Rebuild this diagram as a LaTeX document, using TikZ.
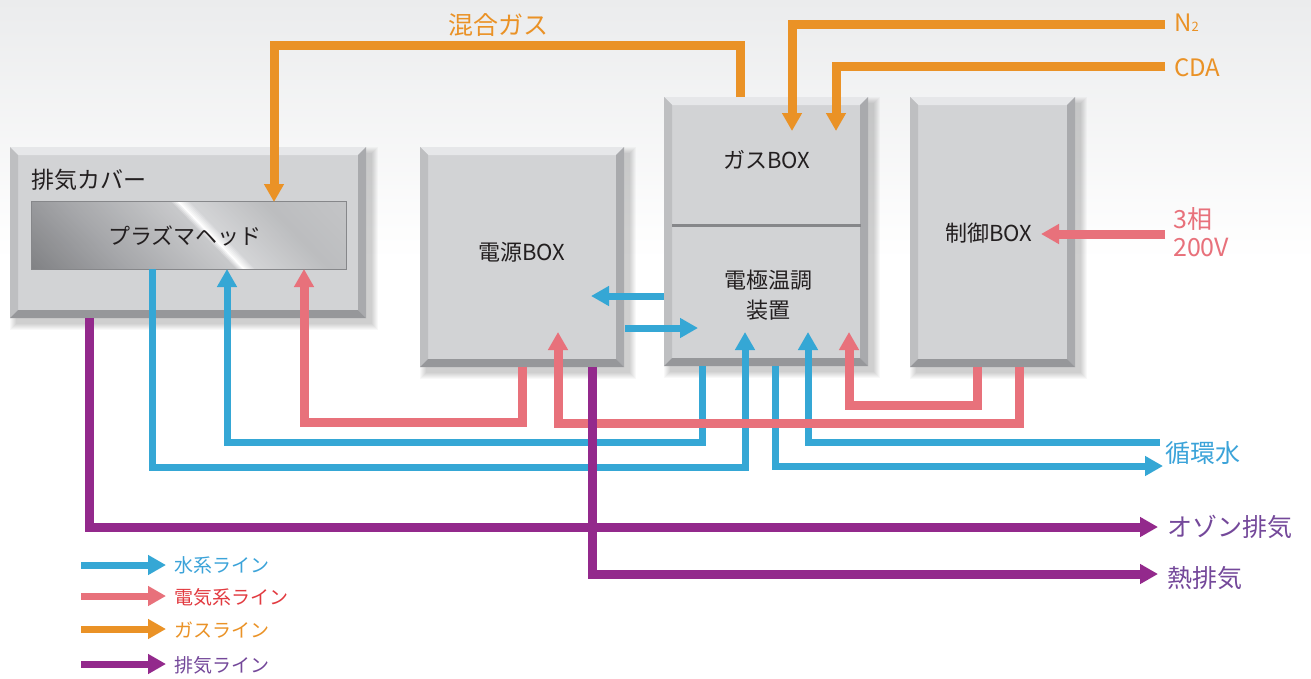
\documentclass[tikz,border=0pt]{standalone}
\usepackage{fontspec}
\setmainfont{Noto Sans CJK JP}
\usetikzlibrary{arrows.meta}
\definecolor{cblue}{HTML}{35A7D5}
\definecolor{cred}{HTML}{E8717B}
\definecolor{corange}{HTML}{EA9226}
\definecolor{cpurple}{HTML}{93298C}
\definecolor{tblue}{HTML}{3BA3D9}
\definecolor{tred}{HTML}{E23A40}
\definecolor{tpurple}{HTML}{74489A}
\definecolor{face}{HTML}{D2D3D5}
\definecolor{bevT}{HTML}{E6E7E9}
\definecolor{bevL}{HTML}{BEBFC1}
\definecolor{bevR}{HTML}{A9AAAD}
\definecolor{bevB}{HTML}{96979A}
\definecolor{ink}{HTML}{231F20}
\definecolor{bgtop}{HTML}{EBECED}
\definecolor{divc}{HTML}{86878A}
\definecolor{m0}{HTML}{7F8083}
\definecolor{m1}{HTML}{A5A6A9}
\definecolor{m2}{HTML}{C8C9CB}
\definecolor{m3}{HTML}{FFFFFF}
\definecolor{m4}{HTML}{D3D4D6}
\definecolor{m5}{HTML}{BCBDBF}
\definecolor{m6}{HTML}{C4C5C7}
\newcommand{\bevbox}[5]{%
  \foreach \s in {1,...,7}{\fill[black,opacity=0.028] (#2+7-\s,#3+7-\s) rectangle (#4+5+\s,#5+5+\s);}
  \fill[face] (#2,#3) rectangle (#4,#5);
  \fill[bevT] (#2,#3) -- (#4,#3) -- (#4-8,#3+8) -- (#2+8,#3+8) -- cycle;
  \fill[bevL] (#2,#3) -- (#2+8,#3+8) -- (#2+8,#5-8) -- (#2,#5) -- cycle;
  \fill[bevR] (#4,#3) -- (#4,#5) -- (#4-8,#5-8) -- (#4-8,#3+8) -- cycle;
  \fill[bevB] (#2,#5) -- (#4,#5) -- (#4-8,#5-8) -- (#2+8,#5-8) -- cycle;
  \node[inner sep=0pt, minimum width={#4-#2}, minimum height={#5-#3}] (#1) at ({(#2+#4)/2},{(#3+#5)/2}) {};
}
% slanted metal strips: #1 start, #2 end, #3 step, #4 colour A, #5 colour B
\newcommand{\metalseg}[5]{%
  \foreach \t in {#1,#3,...,#2}{%
    \pgfmathsetmacro\pp{100*(\t-(#1))/((#2)-(#1))}%
    \fill[#5!\pp!#4] (\t,200) -- (\t+2.8,200) -- (\t+70.8,270) -- (\t+68,270) -- cycle;}%
}
\tikzset{
  pipe/.style={line width=#1, -{Triangle[length=18pt,width=19pt]}},
  pipe/.default=9pt,
  bpipe/.style={pipe=7pt, draw=cblue},
  rpipe/.style={pipe=9pt, draw=cred},
  opipe/.style={pipe=9pt, draw=corange},
  ppipe/.style={pipe=9pt, draw=cpurple},
  boxlbl/.style={font=\fontsize{22}{27}\selectfont, text=ink, inner sep=0pt, align=center},
  sidelbl/.style={font=\fontsize{25}{28}\selectfont, inner sep=0pt, anchor=west},
  leglbl/.style={font=\fontsize{19}{22}\selectfont, inner sep=0pt, anchor=west},
}
\begin{document}
\begin{tikzpicture}[x=1pt,y=-1pt]
\useasboundingbox (0,0) rectangle (1311,678);
\fill[white] (0,0) rectangle (1311,678);
\shade[top color=bgtop, bottom color=white] (0,0) rectangle (1311,260);

% boxes
\bevbox{cover}{10}{147}{366}{318}
\bevbox{pwr}{420}{147}{624}{367}
\bevbox{gas}{664}{97}{868}{366}
\bevbox{ctl}{910}{97}{1075}{367}

% plasma head (brushed metal with a diagonal highlight)
\begin{scope}
  \clip (31,201) rectangle (346,269);
  \metalseg{-40}{60}{-38}{m0}{m1}
  \metalseg{60}{168}{62}{m1}{m2}
  \metalseg{168}{176}{170}{m2}{m3}
  \metalseg{176}{188}{178}{m3}{m4}
  \metalseg{188}{262}{190}{m4}{m5}
  \metalseg{262}{348}{264}{m5}{m6}
\end{scope}
\node[draw=divc, line width=0.8pt, inner sep=0pt, minimum width=315, minimum height=68] (ph) at (188.5,235) {};

% divider in gas box
\draw[divc, line width=3pt] (672,225) -- (861,225);

% labels in boxes
\node[boxlbl, anchor=west, font=\fontsize{23}{27}\selectfont] (lcover) at (31,180) {排気カバー};
\node[boxlbl] (lph) at (185,236) {プラズマヘッド};
\node[boxlbl] (lpwr) at (522,252) {電源BOX};
\node[boxlbl] (lgas) at (767,160) {ガスBOX};
\node[boxlbl, font=\fontsize{22}{30}\selectfont] (lel) at (768,295) {電極温調\\装置};
\node[boxlbl] (lctl) at (989,233) {制御BOX};

% port coordinates
\coordinate (ghTop) at (740,97);
\coordinate (phTop) at (274,202);
\coordinate (n2in) at (1165,24);
\coordinate (n2out) at (792,131);
\coordinate (cdain) at (1165,66);
\coordinate (cdaout) at (836,131);
\coordinate (v3in) at (1165,234);
\coordinate (ctlIn) at (1041,234);
\coordinate (pwrR) at (522,367);
\coordinate (phR) at (304,269);
\coordinate (ctlR1) at (1019,367);
\coordinate (pwrIn) at (558,332);
\coordinate (ctlR2) at (977,367);
\coordinate (gasRin) at (849,332);
\coordinate (phB1) at (152,269);
\coordinate (gasBin1) at (745,332);
\coordinate (gasB1) at (702,366);
\coordinate (phB2) at (227,269);
\coordinate (gasW) at (664,296);
\coordinate (pwrE) at (591,296);
\coordinate (pwrE2) at (625,328);
\coordinate (gasW2) at (698,328);
\coordinate (cwin) at (1160,442);
\coordinate (gasBin2) at (808,332);
\coordinate (gasB2) at (775,366);
\coordinate (cwout) at (1163,466);
\coordinate (covB) at (89,318);
\coordinate (ozout) at (1158,527);
\coordinate (pwrP) at (592,367);
\coordinate (htout) at (1158,574);

% blue lines
\draw[bpipe] (phB1) -- (152,467) -| (gasBin1);
\draw[bpipe] (gasB1) -- (702,442) -| (phB2);
\draw[bpipe] (gasW) -- (pwrE);
\draw[bpipe] (pwrE2) -- (gasW2);
\draw[bpipe] (cwin) -| (gasBin2);
\draw[bpipe] (gasB2) |- (cwout);

% red lines
\draw[rpipe] (pwrR) -- (522,422) -| (phR);
\draw[rpipe] (ctlR1) -- (1019,423) -| (pwrIn);
\draw[rpipe] (ctlR2) -- (977,405) -| (gasRin);
\draw[rpipe] (v3in) -- (ctlIn);

% orange lines
\draw[opipe] (ghTop) -- (740,45) -| (phTop);
\draw[opipe] (n2in) -| (n2out);
\draw[opipe] (cdain) -| (cdaout);

% purple lines
\draw[ppipe] (covB) |- (ozout);
\draw[ppipe] (pwrP) |- (htout);

% outside labels
\node[sidelbl, anchor=center, text=corange] (lmix) at (498,25) {混合ガス};
\node[sidelbl, font=\fontsize{24}{28}\selectfont, text=corange] (ln2) at (1174,23) {N{\fontsize{13}{13}\selectfont 2}};
\node[sidelbl, font=\fontsize{24}{28}\selectfont, text=corange] (lcda) at (1174,68) {CDA};
\node[sidelbl, text=cred, align=left] (l3) at (1173,232) {3相\\200V};
\node[sidelbl, text=tblue] (lcw) at (1165,453) {循環水};
\node[sidelbl, text=tpurple] (loz) at (1167,527) {オゾン排気};
\node[sidelbl, text=tpurple] (lht) at (1167,578) {熱排気};

% legend
\coordinate (lg1a) at (81,565); \coordinate (lg1b) at (166,565);
\coordinate (lg2a) at (81,596); \coordinate (lg2b) at (166,596);
\coordinate (lg3a) at (81,629); \coordinate (lg3b) at (166,629);
\coordinate (lg4a) at (81,664); \coordinate (lg4b) at (166,664);
\draw[bpipe] (lg1a) -- (lg1b);
\draw[rpipe, line width=7pt] (lg2a) -- (lg2b);
\draw[opipe, line width=7pt] (lg3a) -- (lg3b);
\draw[ppipe, line width=7pt] (lg4a) -- (lg4b);
\node[leglbl, text=tblue] (lgt1) at (174,565) {水系ライン};
\node[leglbl, text=tred] (lgt2) at (174,597) {電気系ライン};
\node[leglbl, text=corange] (lgt3) at (174,630) {ガスライン};
\node[leglbl, text=tpurple] (lgt4) at (174,665) {排気ライン};
\end{tikzpicture}
\end{document}
